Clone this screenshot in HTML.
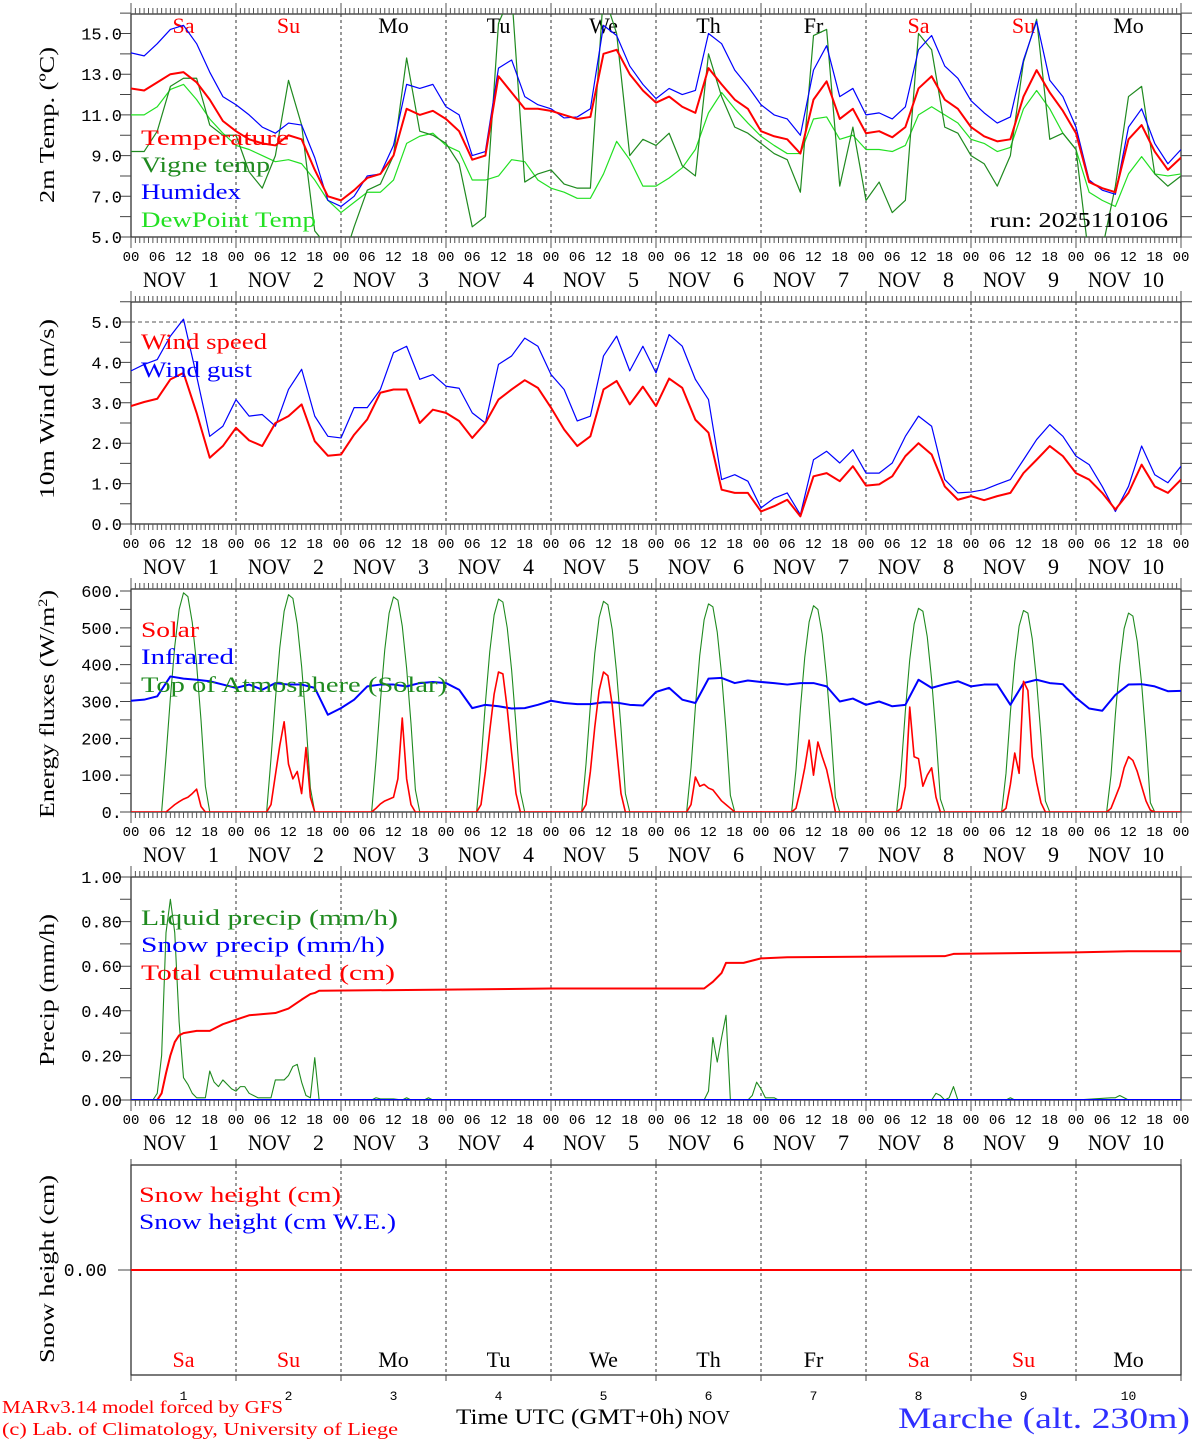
<!DOCTYPE html>
<html>
<head>
<meta charset="utf-8">
<style>
html,body{margin:0;padding:0;background:#fff;}
svg{display:block;}
text{font-family:"Liberation Mono","DejaVu Sans Mono",monospace;}
text.serif{font-family:"Liberation Serif","DejaVu Serif",serif;}
</style>
</head>
<body>
<svg id="chart" xmlns="http://www.w3.org/2000/svg" width="1194" height="1440" viewBox="0 0 1194 1440">
  <rect x="0" y="0" width="1194" height="1440" fill="#fff"/>
  <text class="serif" x="2" y="1413" font-size="18" fill="#ff0000" textLength="281" lengthAdjust="spacingAndGlyphs">MARv3.14 model forced by GFS</text>
  <text class="serif" x="2" y="1435" font-size="18" fill="#ff0000" textLength="396" lengthAdjust="spacingAndGlyphs">(c) Lab. of Climatology, University of Liege</text>
  <text class="serif" x="456" y="1424" font-size="22" fill="#000" textLength="227" lengthAdjust="spacingAndGlyphs">Time UTC (GMT+0h)</text>
  <text class="serif" x="688" y="1424" font-size="20" fill="#000" textLength="42" lengthAdjust="spacingAndGlyphs">NOV</text>
  <text class="serif" x="898" y="1428" font-size="30" fill="#3030ff" textLength="292" lengthAdjust="spacingAndGlyphs">Marche (alt. 230m)</text>
</svg>
<script>
// ---------- DATA ----------
const days = ['Sa','Su','Mo','Tu','We','Th','Fr','Sa','Su','Mo'];
const dayNums = ['1','2','3','4','5','6','7','8','9','10'];
const hourTicks = ['00','06','12','18'];

const temperature = [12.3,12.2,12.6,13.0,13.1,12.6,11.75,10.7,
 10.2,9.8,9.6,9.5,10.0,9.8,8.3,7.0,
 6.8,7.3,7.9,8.1,9.0,11.3,11.0,11.2,
 10.8,10.2,8.8,9.0,12.9,12.1,11.3,11.3,
 11.2,11.0,10.8,10.9,14.0,14.2,13.0,12.2,
 11.6,11.9,11.4,11.1,13.3,12.5,11.75,11.3,
 10.2,9.95,9.8,9.1,11.75,12.65,10.8,11.3,
 10.1,10.2,9.9,10.4,12.3,12.9,11.75,11.3,
 10.4,9.95,9.7,9.8,11.9,13.2,12.1,11.2,
 10.1,7.7,7.4,7.2,9.8,10.5,9.2,8.3,8.9];
const humidex = [14.05,13.9,14.5,15.2,15.4,14.5,13.1,11.9,
 11.5,11.0,10.4,10.1,10.6,10.5,8.9,6.8,
 6.5,7.0,8.0,8.1,9.5,12.5,12.3,12.5,
 11.4,11.0,9.0,9.2,13.3,13.7,11.9,11.5,
 11.3,10.85,10.9,11.3,15.4,14.9,13.4,12.5,
 11.8,12.3,12.0,12.2,15.0,14.5,13.2,12.4,
 11.5,11.0,10.8,10.0,13.2,14.4,11.9,12.3,
 11.0,11.1,10.8,11.4,14.2,14.9,13.4,12.8,
 11.7,11.1,10.6,10.9,13.7,15.6,12.7,11.9,
 10.4,7.8,7.3,7.1,10.4,11.3,9.6,8.6,9.3];
const dewpoint = [11.0,11.0,11.4,12.25,12.5,11.75,10.8,10.1,
 9.5,9.3,9.0,8.7,8.8,8.6,7.8,6.8,
 6.2,6.7,7.2,7.2,7.8,9.6,9.95,10.1,
 9.5,9.2,7.8,7.8,8.0,8.8,8.7,7.8,
 7.4,7.2,6.9,6.9,8.1,9.7,8.8,7.5,
 7.5,7.9,8.4,9.3,11.1,12.1,11.3,10.6,
 9.95,9.5,9.1,9.1,10.8,10.9,9.8,10.0,
 9.3,9.3,9.2,9.5,11.0,11.4,11.0,10.6,
 9.8,9.6,9.2,9.4,11.3,12.2,11.3,10.1,
 9.3,7.2,6.8,6.5,8.1,8.95,8.1,8.0,8.1];
const vigneTemp = [9.2,9.2,10.2,12.4,12.8,12.8,10.5,10.0,
 10.0,8.2,7.4,9.0,12.7,10.5,5.3,4.5,
 3.5,5.5,7.3,7.6,9.0,13.8,10.2,10.0,
 9.6,8.6,5.5,6.0,15.5,17.0,7.7,8.1,
 8.3,7.6,7.4,7.4,17.0,15.0,9.0,9.8,
 9.5,10.1,8.5,8.0,14.0,11.9,10.4,10.1,
 9.6,9.1,8.8,7.2,14.9,15.2,7.5,10.4,
 6.8,7.7,6.2,6.8,15.0,14.2,10.4,10.1,
 9.0,8.6,7.5,9.0,13.6,15.7,9.8,10.1,
 9.3,3.9,4.4,7.5,11.9,12.4,8.1,7.5,8.0];

const windSpeed = [2.92,3.02,3.1,3.58,3.74,2.75,1.64,1.93,
 2.38,2.07,1.93,2.5,2.67,2.96,2.05,1.69,
 1.72,2.21,2.59,3.25,3.33,3.33,2.5,2.83,
 2.75,2.55,2.13,2.5,3.08,3.33,3.56,3.37,
 2.88,2.34,1.93,2.17,3.33,3.54,2.96,3.40,
 2.92,3.6,3.37,2.58,2.26,0.85,0.77,0.77,
 0.31,0.44,0.6,0.19,1.18,1.26,1.06,1.43,
 0.95,0.98,1.18,1.68,2.0,1.72,0.93,0.6,
 0.69,0.59,0.69,0.77,1.26,1.59,1.93,1.68,
 1.26,1.1,0.77,0.36,0.77,1.47,0.93,0.77,1.1];
const windGust = [3.79,3.95,4.07,4.65,5.07,3.66,2.17,2.42,
 3.08,2.67,2.71,2.42,3.33,3.83,2.67,2.17,
 2.13,2.88,2.88,3.33,4.24,4.4,3.58,3.7,
 3.41,3.36,2.75,2.5,3.95,4.16,4.6,4.4,
 3.7,3.33,2.55,2.67,4.16,4.65,3.79,4.4,
 3.74,4.69,4.4,3.58,3.08,1.1,1.22,1.06,
 0.4,0.64,0.77,0.23,1.59,1.8,1.51,1.84,
 1.26,1.26,1.51,2.17,2.67,2.42,1.1,0.77,
 0.79,0.85,0.98,1.1,1.59,2.09,2.46,2.17,
 1.68,1.47,0.93,0.31,0.93,1.93,1.22,1.02,1.43];

const infrared = [302,305,314,368,362,359,355,346,
 337,346,332,350,346,346,337,264,
 282,305,341,346,346,341,350,353,
 350,332,282,291,287,281,282,291,
 302,296,293,293,298,297,291,289,
 326,337,305,296,362,364,350,357,
 353,350,346,350,350,341,300,308,
 291,300,287,291,359,337,347,355,
 341,346,346,291,350,359,350,347,
 310,281,275,318,346,347,341,328,329];
// hourly values from 06h to 18h, one row per day
const solarByDay = [
 [0,0,0,10,20,28,35,40,50,62,15,0,0],
 [0,0,20,100,180,245,130,90,110,50,175,40,0],
 [0,0,10,22,30,35,40,90,255,90,20,0,0],
 [0,0,20,110,220,320,380,375,280,160,50,0,0],
 [0,0,20,110,230,330,380,370,290,170,50,0,0],
 [0,0,20,95,70,75,65,60,45,30,20,10,0],
 [0,0,10,60,120,195,100,190,150,115,60,0,0],
 [0,0,10,70,285,150,145,70,100,120,40,0,0],
 [0,0,10,75,160,105,355,330,150,80,25,0,0],
 [0,0,10,40,70,120,150,140,110,70,30,5,0]];
const toaByDay = [
 [0,0,150,310,450,550,595,585,515,400,250,70,0],
 [0,0,145,305,445,545,590,580,510,395,245,65,0],
 [0,0,140,300,440,540,584,575,505,390,240,60,0],
 [0,0,135,295,435,535,578,570,500,385,235,55,0],
 [0,0,130,290,430,528,572,563,495,378,228,50,0],
 [0,0,120,285,425,522,565,557,488,372,222,45,0],
 [0,0,115,280,420,516,560,550,482,366,215,40,0],
 [0,0,110,275,414,510,553,545,476,360,210,35,0],
 [0,0,105,270,408,505,547,540,470,355,205,30,0],
 [0,0,100,265,400,498,540,532,463,348,198,25,0]];

const liquidHours = [0,5,6,7,8,9,10,11,12,13,14,15,17,18,19,20,21,22,23,24,25,26,27,28,29,32,33,34,35,36,37,38,39,40,41,42,43,55,56,57,60,62,63,64,67,68,69,131,132,133,134,135,136,137,141,142,143,144,145,146,147,148,183,184,185,186,187,188,189,200,201,202,216,224,225,226,227,228,240];
const liquidValues = [0,0,0.03,0.2,0.75,0.9,0.75,0.35,0.1,0.07,0.03,0.01,0.01,0.13,0.08,0.06,0.09,0.07,0.05,0.04,0.06,0.06,0.03,0.02,0.01,0.01,0.09,0.09,0.09,0.11,0.15,0.16,0.08,0.02,0.01,0.19,0,0,0.01,0.005,0.005,0,0.01,0,0,0.01,0,0,0.04,0.28,0.17,0.28,0.38,0,0,0.02,0.08,0.05,0.01,0.01,0.01,0,0,0.03,0.02,0,0.01,0.06,0,0,0.01,0,0,0.01,0.01,0.02,0.01,0,0];
const cumHours = [0,6,7,8,9,10,11,12,15,18,21,24,27,30,33,36,39,41,42,43,72,96,131,133,135,136,140,144,150,186,188,216,228,240];
const cumValues = [0,0,0.03,0.12,0.2,0.26,0.29,0.30,0.31,0.31,0.34,0.36,0.38,0.385,0.39,0.41,0.45,0.475,0.48,0.49,0.495,0.50,0.50,0.53,0.57,0.615,0.615,0.635,0.64,0.645,0.655,0.662,0.667,0.667];
const snowPrecipHours = [0,240];
const snowPrecipValues = [0,0];
const snowHeightHours = [0,24,48,72,96,120,144,168,192,216,240];
const snowHeightValues = [0,0,0,0,0,0,0,0,0,0,0];

// ---------- DRAWING ----------
const NS = 'http://www.w3.org/2000/svg';
const svg = document.getElementById('chart');
const X0 = 131, X1 = 1181;
const xh = h => X0 + h * (X1 - X0) / 240;
const hours3 = temperature.map((_, i) => i * 3);

function mk(tag, attrs, name, parent) {
  const el = document.createElementNS(NS, tag);
  for (const k in attrs) el.setAttribute(k, attrs[k]);
  
  
  (parent || svg).appendChild(el);
  return el;
}
function txt(x, y, s, size, fill, name, extra) {
  const t = mk('text', Object.assign({x: x, y: y, 'font-size': size, fill: fill}, extra || {}), name);
  t.textContent = s;
  return t;
}
function scale(v0, p0, v1, p1) { return v => p0 + (v - v0) * (p1 - p0) / (v1 - v0); }

const panels = [
  {id:'temp', top:14, bottom:237, y: scale(5,237,15,33.5)},
  {id:'wind', top:302, bottom:524, y: scale(0,524,5,322)},
  {id:'energy', top:589, bottom:812, y: scale(0,812,600,591)},
  {id:'precip', top:877, bottom:1100, y: scale(0,1100,1,877)},
  {id:'snow', top:1165, bottom:1375, y: v => 1270 - v * 100}
];

function frame(p, hourly) {
  const g = mk('g', {}, p.id + '-axes');
  for (let d = 1; d < 10; d++) {
    mk('line', {x1: xh(d*24), x2: xh(d*24), y1: p.top, y2: p.bottom, stroke: '#333', 'stroke-width': 1, 'stroke-dasharray': '3,3'}, p.id + '-day-separator', g);
  }
  mk('rect', {x: X0, y: p.top, width: X1 - X0, height: p.bottom - p.top, fill: 'none', stroke: '#333', 'stroke-width': 1.3}, p.id + '-frame', g);
  if (hourly) {
    let d = '';
    for (let h = 0; h <= 240; h++) {
      const x = xh(h).toFixed(2);
      const L = (h % 24 === 0) ? 11 : 6;
      d += 'M' + x + ' ' + p.top + 'v' + (-L) + 'M' + x + ' ' + p.bottom + 'v' + L;
    }
    mk('path', {d: d, stroke: '#555', 'stroke-width': 1, fill: 'none'}, p.id + '-x-ticks', g);
  } else {
    let d = '';
    for (let k = 0; k <= 10; k++) {
      const x = xh(k*24).toFixed(2);
      d += 'M' + x + ' ' + p.top + 'v-6M' + x + ' ' + p.bottom + 'v6';
    }
    mk('path', {d: d, stroke: '#444', 'stroke-width': 1, fill: 'none'}, p.id + '-x-ticks', g);
  }
  return g;
}
function xLabels(p) {
  for (let d = 0; d < 10; d++) {
    hourTicks.forEach((s, i) => {
      txt(xh(d*24 + i*6), p.bottom + 24, s, 14, '#000', p.id + '-hour-label', {'text-anchor': 'middle'});
    });
    txt(xh(d*24) + 12, p.bottom + 50, 'NOV', 22, '#000', p.id + '-date-label', {'class': 'serif', textLength: 43, lengthAdjust: 'spacingAndGlyphs'});
    txt(xh(d*24) + 88, p.bottom + 50, dayNums[d], 22, '#000', p.id + '-date-number', {'class': 'serif', 'text-anchor': 'end'});
  }
  txt(xh(240), p.bottom + 24, '00', 14, '#000', p.id + '-hour-label', {'text-anchor': 'middle'});
}
function yAxis(p, tickVals, labelVals, fmt) {
  let d = '';
  tickVals.forEach(v => {
    const y = p.y(v).toFixed(2);
    d += 'M' + (X0 - 11) + ' ' + y + 'H' + X0 + 'M' + X1 + ' ' + y + 'H' + (X1 + 11);
  });
  mk('path', {d: d, stroke: '#444', 'stroke-width': 1, fill: 'none'}, p.id + '-y-ticks');
  labelVals.forEach(v => {
    txt(X0 - 9, p.y(v) + 6, fmt(v), 17, '#000', p.id + '-y-tick-label', {'text-anchor': 'end'});
  });
}
function yTitle(cy, s, name, len) {
  const t = mk('text', {'class': 'serif', x: 0, y: 0, 'font-size': 21, fill: '#000', 'text-anchor': 'middle', transform: 'translate(54,' + cy + ') rotate(-90)', textLength: len, lengthAdjust: 'spacingAndGlyphs'}, name);
  t.textContent = s;
  return t;
}
function clip(p) {
  const cp = mk('clipPath', {id: 'clip-' + p.id}, p.id + '-clip');
  mk('rect', {x: X0, y: p.top, width: X1 - X0, height: p.bottom - p.top}, p.id + '-clip-rect', cp);
}
function series(p, hours, vals, color, w, name) {
  const d = vals.map((v, i) => (i ? 'L' : 'M') + xh(hours[i]).toFixed(2) + ' ' + p.y(v).toFixed(2)).join('');
  return mk('path', {d: d, stroke: color, 'stroke-width': w, fill: 'none', 'stroke-linejoin': 'round', 'clip-path': 'url(#clip-' + p.id + ')'}, name);
}
function legend(x, y, s, color, len, name) {
  txt(x, y, s, 22, color, name, {'class': 'serif', textLength: len, lengthAdjust: 'spacingAndGlyphs'});
}
function range(a, b, s) { const r = []; for (let v = a; v <= b + 1e-9; v += s) r.push(+v.toFixed(4)); return r; }

const GREEN = '#1f8a1f', LGREEN = '#22e022', RED = '#ff0000', BLUE = '#0000ff';

// ---- Temperature panel
const pT = panels[0];
clip(pT); frame(pT, true); xLabels(pT);
yAxis(pT, range(5, 16, 1), range(5, 15, 2), v => v.toFixed(1));
yTitle(125, '2m Temp. (\u00BAC)', 'temp-y-axis-title', 156);
days.forEach((s, d) => txt(xh(d*24 + 12), 33, s, 22, (s === 'Sa' || s === 'Su') ? RED : '#000', 'temp-weekday-label', {'class': 'serif', 'text-anchor': 'middle'}));
series(pT, hours3, dewpoint, LGREEN, 1.2, 'dewpoint-line');
series(pT, hours3, vigneTemp, GREEN, 1.2, 'vigne-temp-line');
series(pT, hours3, humidex, BLUE, 1.2, 'humidex-line');
series(pT, hours3, temperature, RED, 2, 'temperature-line');
legend(141, 145, 'Temperature', RED, 148, 'legend-temperature');
legend(141, 172, 'Vigne temp', GREEN, 129, 'legend-vigne-temp');
legend(141, 199, 'Humidex', BLUE, 100, 'legend-humidex');
legend(141, 227, 'DewPoint Temp', LGREEN, 175, 'legend-dewpoint');
txt(990, 227, 'run: 2025110106', 21, '#000', 'run-label', {'class': 'serif', textLength: 178, lengthAdjust: 'spacingAndGlyphs'});

// ---- Wind panel
const pW = panels[1];
clip(pW); frame(pW, true); xLabels(pW);
mk('line', {x1: X0, x2: X1, y1: pW.y(5), y2: pW.y(5), stroke: '#555', 'stroke-width': 1, 'stroke-dasharray': '4,3'}, 'wind-5ms-reference-line');
yAxis(pW, range(0, 5.5, 0.5), range(0, 5, 1), v => v.toFixed(1));
yTitle(409, '10m Wind (m/s)', 'wind-y-axis-title', 180);
series(pW, hours3, windGust, BLUE, 1.2, 'wind-gust-line');
series(pW, hours3, windSpeed, RED, 2, 'wind-speed-line');
legend(141, 349, 'Wind speed', RED, 126, 'legend-wind-speed');
legend(141, 377, 'Wind gust', BLUE, 111, 'legend-wind-gust');

// ---- Energy panel
const pE = panels[2];
clip(pE); frame(pE, true); xLabels(pE);
yAxis(pE, range(0, 600, 50), range(0, 600, 100), v => v + '.');
const et = mk('text', {'class': 'serif', x: 0, y: 0, 'font-size': 21, fill: '#000', 'text-anchor': 'middle', transform: 'translate(54,704) rotate(-90)', textLength: 228, lengthAdjust: 'spacingAndGlyphs'}, 'energy-y-axis-title');
et.textContent = 'Energy fluxes (W/m';
const sup = mk('tspan', {dy: -7, 'font-size': 13}, 'energy-y-axis-title-sup', et);
sup.textContent = '2';
const sup2 = mk('tspan', {dy: 7}, 'energy-y-axis-title-close', et);
sup2.textContent = ')';
const hourlyHours = [], toaVals = [], solarVals = [];
for (let d = 0; d < 10; d++) {
  if (d === 0) { hourlyHours.push(0); toaVals.push(0); solarVals.push(0); }
  for (let j = 0; j < 13; j++) { hourlyHours.push(d*24 + 6 + j); toaVals.push(toaByDay[d][j]); solarVals.push(solarByDay[d][j]); }
}
hourlyHours.push(240); toaVals.push(0); solarVals.push(0);
series(pE, hourlyHours, toaVals, GREEN, 1.1, 'toa-solar-line');
series(pE, hours3, infrared, BLUE, 2, 'infrared-line');
series(pE, hourlyHours, solarVals, RED, 1.6, 'solar-line');
legend(141, 637, 'Solar', RED, 58, 'legend-solar');
legend(141, 664, 'Infrared', BLUE, 93, 'legend-infrared');
legend(141, 692, 'Top of Atmosphere (Solar)', GREEN, 306, 'legend-toa');

// ---- Precip panel
const pP = panels[3];
clip(pP); frame(pP, true); xLabels(pP);
yAxis(pP, range(0, 1, 0.1), range(0, 1, 0.2), v => v.toFixed(2));
yTitle(990, 'Precip (mm/h)', 'precip-y-axis-title', 152);
series(pP, liquidHours, liquidValues, GREEN, 1.1, 'liquid-precip-line');
series(pP, cumHours, cumValues, RED, 2, 'cumulated-precip-line');
series(pP, snowPrecipHours, snowPrecipValues, BLUE, 2, 'snow-precip-line');
legend(141, 925, 'Liquid precip (mm/h)', GREEN, 257, 'legend-liquid-precip');
legend(141, 952, 'Snow precip (mm/h)', BLUE, 244, 'legend-snow-precip');
legend(141, 980, 'Total cumulated (cm)', RED, 254, 'legend-total-cumulated');

// ---- Snow panel
const pS = panels[4];
clip(pS); frame(pS, false);
mk('path', {d: 'M' + (X0 - 13) + ' 1270H' + X0 + 'M' + X1 + ' 1270H' + (X1 + 11), stroke: '#444', 'stroke-width': 1}, 'snow-y-ticks');
txt(107, 1276, '0.00', 18, '#000', 'snow-y-tick-label', {'text-anchor': 'end'});
yTitle(1269, 'Snow height (cm)', 'snow-y-axis-title', 188);
series(pS, snowHeightHours, snowHeightValues, RED, 2, 'snow-height-line');
legend(139, 1202, 'Snow height (cm)', RED, 202, 'legend-snow-height');
legend(139, 1229, 'Snow height (cm W.E.)', BLUE, 257, 'legend-snow-height-we');
days.forEach((s, d) => txt(xh(d*24 + 12), 1367, s, 22, (s === 'Sa' || s === 'Su') ? RED : '#000', 'snow-weekday-label', {'class': 'serif', 'text-anchor': 'middle'}));
dayNums.forEach((s, d) => txt(xh(d*24 + 12), 1400, s, 13, '#000', 'snow-day-number', {'text-anchor': 'middle'}));
</script>
</body>
</html>
